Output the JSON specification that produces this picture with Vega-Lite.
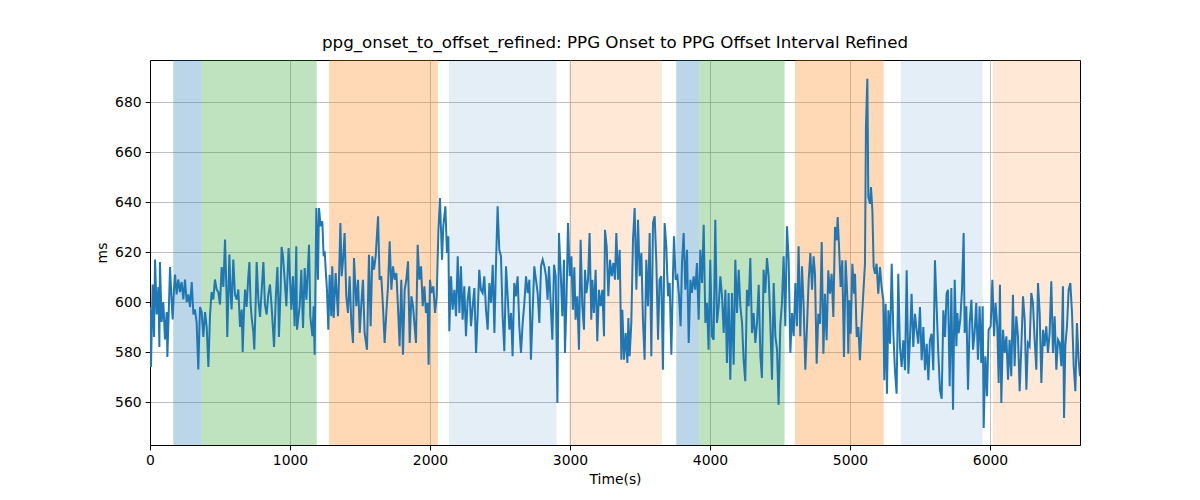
{
"$schema": "https://vega.github.io/schema/vega-lite/v6.json",
"width": 930, "height": 385,
"autosize": {"type": "none"},
"padding": {"left": 150, "top": 60, "right": 120, "bottom": 55},
"background": "white",
"config": {"font": "DejaVu Sans", "view": {"stroke": "black", "strokeWidth": 1},
 "axis": {"labelFont": "DejaVu Sans", "titleFont": "DejaVu Sans", "labelFontSize": 13.9, "titleFontSize": 13.9, "titleFontWeight": "normal", "labelColor": "black", "titleColor": "black", "domainColor": "black", "tickColor": "black", "tickSize": 4.9, "labelPadding": 4, "titlePadding": 5, "labelFlush": false, "grid": true, "gridColor": "#b0b0b0", "gridWidth": 0.8}},
"title": {"text": "ppg_onset_to_offset_refined: PPG Onset to PPG Offset Interval Refined", "font": "DejaVu Sans", "fontSize": 16.7, "fontWeight": "normal", "color": "black", "offset": 8},
"datasets": {
"spans": [{"s":166,"e":369,"p":"A"},{"s":369,"e":1191,"p":"B"},{"s":1279,"e":2057,"p":"C"},{"s":2136,"e":2905,"p":"D"},{"s":2995,"e":3657,"p":"E"},{"s":3759,"e":3924,"p":"A"},{"s":3924,"e":4533,"p":"B"},{"s":4607,"e":5241,"p":"C"},{"s":5364,"e":5948,"p":"D"},{"s":6021,"e":6660,"p":"E"}],
"series": [
{"t":0,"v":598},{"t":7,"v":574},{"t":19,"v":607},{"t":29,"v":586},{"t":36,"v":617},{"t":48,"v":595},{"t":60,"v":606},{"t":67,"v":582},{"t":71,"v":616},{"t":83,"v":592},{"t":95,"v":600},{"t":107,"v":585},{"t":119,"v":596},{"t":124,"v":578},{"t":136,"v":600},{"t":143,"v":614},{"t":155,"v":600},{"t":162,"v":593},{"t":171,"v":605},{"t":179,"v":611},{"t":190,"v":603},{"t":202,"v":609},{"t":214,"v":604},{"t":226,"v":608},{"t":238,"v":601},{"t":250,"v":609},{"t":262,"v":600},{"t":274,"v":603},{"t":286,"v":598},{"t":298,"v":608},{"t":310,"v":595},{"t":321,"v":597},{"t":333,"v":592},{"t":345,"v":573},{"t":357,"v":598},{"t":369,"v":596},{"t":381,"v":586},{"t":393,"v":596},{"t":405,"v":590},{"t":417,"v":574},{"t":429,"v":595},{"t":440,"v":604},{"t":452,"v":601},{"t":464,"v":609},{"t":476,"v":605},{"t":488,"v":604},{"t":500,"v":599},{"t":512,"v":614},{"t":524,"v":606},{"t":536,"v":625},{"t":548,"v":600},{"t":552,"v":586},{"t":567,"v":619},{"t":576,"v":603},{"t":583,"v":597},{"t":595,"v":617},{"t":607,"v":603},{"t":619,"v":601},{"t":631,"v":605},{"t":643,"v":590},{"t":655,"v":597},{"t":662,"v":580},{"t":671,"v":596},{"t":679,"v":605},{"t":690,"v":598},{"t":702,"v":610},{"t":710,"v":616},{"t":719,"v":599},{"t":726,"v":594},{"t":738,"v":588},{"t":745,"v":581},{"t":755,"v":600},{"t":762,"v":616},{"t":774,"v":601},{"t":786,"v":594},{"t":798,"v":605},{"t":810,"v":616},{"t":821,"v":599},{"t":833,"v":595},{"t":845,"v":603},{"t":857,"v":607},{"t":869,"v":598},{"t":886,"v":582},{"t":898,"v":601},{"t":910,"v":614},{"t":917,"v":600},{"t":921,"v":586},{"t":933,"v":605},{"t":940,"v":622},
{"t":950,"v":618.3},{"t":962,"v":608.9},{"t":974,"v":598.3},{"t":990,"v":621.6},{"t":1010,"v":596.9},{"t":1021,"v":610.3},{"t":1033,"v":590.3},{"t":1045,"v":622.3},{"t":1050,"v":588.9},{"t":1069,"v":598.3},{"t":1081,"v":612.9},{"t":1093,"v":589.6},{"t":1105,"v":613.6},{"t":1117,"v":600.9},{"t":1136,"v":622.9},{"t":1145,"v":594.3},{"t":1160,"v":586.3},{"t":1169,"v":598.3},{"t":1176,"v":578.9},{"t":1188,"v":637.6},{"t":1200,"v":608.9},{"t":1207,"v":637.6},{"t":1219,"v":630.3},{"t":1231,"v":632.3},{"t":1240,"v":618.3},{"t":1248,"v":620.3},{"t":1255,"v":612.9},{"t":1264,"v":604.9},{"t":1274,"v":588.9},{"t":1283,"v":610.9},{"t":1295,"v":594.3},{"t":1302,"v":614.3},{"t":1312,"v":593.6},{"t":1326,"v":611.6},{"t":1343,"v":594.3},{"t":1360,"v":631.6},{"t":1369,"v":610.3},{"t":1379,"v":616.9},{"t":1390,"v":627.6},{"t":1402,"v":602.3},{"t":1414,"v":595.6},{"t":1426,"v":610.3},{"t":1438,"v":591.6},{"t":1450,"v":583.6},{"t":1457,"v":617.6},{"t":1474,"v":598.3},{"t":1486,"v":608.9},{"t":1498,"v":587.6},{"t":1510,"v":599.6},{"t":1521,"v":608.9},{"t":1533,"v":587.6},{"t":1550,"v":580.9},{"t":1564,"v":618.9},{"t":1576,"v":590.3},{"t":1588,"v":618.3},{"t":1600,"v":612.9},{"t":1612,"v":618.3},{"t":1629,"v":634.3},{"t":1640,"v":608.9},{"t":1652,"v":610.3},{"t":1664,"v":598.3},{"t":1676,"v":583.6},{"t":1688,"v":595.6},{"t":1700,"v":606.3},{"t":1712,"v":624.3},{"t":1724,"v":604.9},{"t":1736,"v":614.3},{"t":1748,"v":608.9},{"t":1760,"v":611.6},{"t":1771,"v":598.3},{"t":1783,"v":582.3},{"t":1795,"v":608.9},{"t":1807,"v":578.9},{"t":1819,"v":604.9},{"t":1831,"v":608.9},{"t":1843,"v":616.3},{"t":1855,"v":583.6},{"t":1867,"v":602.3},{"t":1879,"v":598.3},{"t":1890,"v":590.3},
{"t":1900,"v":583.6},{"t":1912,"v":622.9},{"t":1924,"v":608.9},{"t":1936,"v":614.3},{"t":1948,"v":598.3},{"t":1960,"v":606.3},{"t":1971,"v":595.6},{"t":1983,"v":599.6},{"t":1990,"v":574.9},{"t":2000,"v":608.9},{"t":2010,"v":603.6},{"t":2024,"v":606.3},{"t":2036,"v":595.6},{"t":2048,"v":602.3},{"t":2060,"v":628.3},{"t":2071,"v":641.6},{"t":2086,"v":616.9},{"t":2095,"v":630.3},{"t":2110,"v":638.3},{"t":2121,"v":619.6},{"t":2131,"v":626.3},{"t":2138,"v":588.3},{"t":2150,"v":610.3},{"t":2162,"v":596.9},{"t":2174,"v":604.9},{"t":2186,"v":594.3},{"t":2198,"v":618.3},{"t":2210,"v":595.6},{"t":2221,"v":614.3},{"t":2233,"v":592.9},{"t":2245,"v":606.3},{"t":2257,"v":586.3},{"t":2269,"v":600.9},{"t":2281,"v":606.3},{"t":2293,"v":590.3},{"t":2305,"v":598.3},{"t":2317,"v":605.6},{"t":2329,"v":579.6},{"t":2340,"v":594.3},{"t":2352,"v":612.9},{"t":2364,"v":604.9},{"t":2376,"v":603.6},{"t":2388,"v":610.3},{"t":2400,"v":596.9},{"t":2412,"v":588.9},{"t":2424,"v":607.6},{"t":2436,"v":599.6},{"t":2448,"v":614.9},{"t":2460,"v":587.6},{"t":2471,"v":614.3},{"t":2483,"v":638.3},{"t":2495,"v":620.9},{"t":2507,"v":618.3},{"t":2519,"v":594.3},{"t":2531,"v":580.3},{"t":2543,"v":614.3},{"t":2555,"v":602.3},{"t":2567,"v":588.9},{"t":2579,"v":595.6},{"t":2590,"v":578.3},{"t":2602,"v":607.6},{"t":2614,"v":602.3},{"t":2626,"v":610.3},{"t":2638,"v":590.3},{"t":2650,"v":579.6},{"t":2662,"v":591.6},{"t":2674,"v":599.6},{"t":2686,"v":610.3},{"t":2698,"v":603.6},{"t":2710,"v":608.9},{"t":2721,"v":576.9},{"t":2733,"v":595.6},{"t":2745,"v":614.3},{"t":2757,"v":608.9},{"t":2769,"v":603.6},{"t":2781,"v":591.6},{"t":2793,"v":614.3},{"t":2805,"v":616.9},{"t":2817,"v":614.3},{"t":2829,"v":610.3},{"t":2840,"v":600.9},
{"t":2850,"v":614.3},{"t":2862,"v":599.6},{"t":2874,"v":584.9},{"t":2886,"v":614.9},{"t":2898,"v":610.3},{"t":2910,"v":559.6},{"t":2921,"v":627.6},{"t":2933,"v":612.9},{"t":2945,"v":594.3},{"t":2957,"v":616.9},{"t":2964,"v":579.6},{"t":2974,"v":598.3},{"t":2986,"v":631.6},{"t":2998,"v":610.3},{"t":3010,"v":618.3},{"t":3021,"v":596.9},{"t":3031,"v":613.9},{"t":3040,"v":592.9},{"t":3052,"v":602.3},{"t":3064,"v":580.9},{"t":3076,"v":624.9},{"t":3088,"v":598.3},{"t":3100,"v":588.9},{"t":3107,"v":612.9},{"t":3117,"v":603.6},{"t":3129,"v":608.9},{"t":3140,"v":627.6},{"t":3152,"v":592.9},{"t":3160,"v":608.9},{"t":3171,"v":595.6},{"t":3183,"v":612.9},{"t":3195,"v":584.3},{"t":3207,"v":604.9},{"t":3219,"v":598.3},{"t":3231,"v":604.9},{"t":3243,"v":586.3},{"t":3250,"v":628.9},{"t":3262,"v":622.3},{"t":3274,"v":602.3},{"t":3286,"v":616.9},{"t":3298,"v":610.3},{"t":3310,"v":615.6},{"t":3321,"v":608.9},{"t":3331,"v":627.6},{"t":3343,"v":608.9},{"t":3355,"v":620.9},{"t":3367,"v":576.9},{"t":3374,"v":596.9},{"t":3386,"v":576.9},{"t":3398,"v":587.6},{"t":3410,"v":575.6},{"t":3417,"v":593.6},{"t":3426,"v":578.3},{"t":3438,"v":591.6},{"t":3450,"v":624.9},{"t":3462,"v":637.6},{"t":3474,"v":604.9},{"t":3486,"v":632.9},{"t":3498,"v":610.3},{"t":3510,"v":619.6},{"t":3521,"v":592.9},{"t":3533,"v":576.9},{"t":3545,"v":616.9},{"t":3557,"v":598.3},{"t":3569,"v":627.6},{"t":3581,"v":578.3},{"t":3593,"v":631.6},{"t":3605,"v":634.3},{"t":3617,"v":615.6},{"t":3629,"v":584.9},{"t":3640,"v":608.9},{"t":3652,"v":610.3},{"t":3664,"v":572.9},{"t":3676,"v":631.6},{"t":3688,"v":622.3},{"t":3700,"v":602.3},{"t":3712,"v":607.6},{"t":3724,"v":578.9},{"t":3736,"v":611.6},{"t":3743,"v":626.3},{"t":3755,"v":608.9},{"t":3767,"v":610.3},{"t":3779,"v":602.3},{"t":3790,"v":590.3},
{"t":3800,"v":615.6},{"t":3812,"v":627.6},{"t":3824,"v":604.9},{"t":3836,"v":620.9},{"t":3848,"v":583.6},{"t":3860,"v":608.9},{"t":3871,"v":603.6},{"t":3883,"v":610.3},{"t":3895,"v":604.9},{"t":3907,"v":615.6},{"t":3919,"v":592.9},{"t":3931,"v":620.9},{"t":3943,"v":607.6},{"t":3955,"v":630.9},{"t":3967,"v":591.6},{"t":3979,"v":599.6},{"t":3990,"v":580.9},{"t":4002,"v":616.9},{"t":4014,"v":586.3},{"t":4026,"v":584.9},{"t":4038,"v":632.9},{"t":4050,"v":591.6},{"t":4062,"v":598.3},{"t":4074,"v":610.3},{"t":4086,"v":602.3},{"t":4098,"v":587.6},{"t":4110,"v":604.9},{"t":4121,"v":575.6},{"t":4133,"v":603.6},{"t":4145,"v":568.9},{"t":4157,"v":603.6},{"t":4169,"v":574.9},{"t":4181,"v":616.9},{"t":4193,"v":595.6},{"t":4205,"v":612.9},{"t":4217,"v":598.3},{"t":4229,"v":591.6},{"t":4240,"v":576.9},{"t":4252,"v":568.3},{"t":4264,"v":604.9},{"t":4276,"v":598.3},{"t":4288,"v":617.6},{"t":4300,"v":587.6},{"t":4312,"v":595.6},{"t":4324,"v":583.6},{"t":4336,"v":591.6},{"t":4348,"v":606.9},{"t":4360,"v":578.3},{"t":4371,"v":569.6},{"t":4383,"v":612.9},{"t":4395,"v":603.6},{"t":4407,"v":617.6},{"t":4419,"v":610.3},{"t":4431,"v":591.6},{"t":4443,"v":568.9},{"t":4455,"v":607.6},{"t":4467,"v":586.3},{"t":4479,"v":580.9},{"t":4490,"v":558.9},{"t":4502,"v":590.3},{"t":4514,"v":599.6},{"t":4526,"v":618.3},{"t":4538,"v":590.3},{"t":4550,"v":630.3},{"t":4562,"v":616.9},{"t":4574,"v":579.6},{"t":4586,"v":595.6},{"t":4598,"v":586.3},{"t":4610,"v":607.6},{"t":4621,"v":590.3},{"t":4633,"v":622.3},{"t":4645,"v":586.3},{"t":4657,"v":614.3},{"t":4669,"v":598.3},{"t":4681,"v":572.9},{"t":4693,"v":590.3},{"t":4705,"v":608.9},{"t":4717,"v":619.6},{"t":4729,"v":604.9},{"t":4740,"v":618.3},
{"t":4750,"v":611.3},{"t":4762,"v":575.3},{"t":4774,"v":595.3},{"t":4786,"v":591.3},{"t":4798,"v":624},{"t":4810,"v":579.3},{"t":4821,"v":603.3},{"t":4833,"v":584.7},{"t":4845,"v":612.7},{"t":4857,"v":603.3},{"t":4869,"v":611.3},{"t":4881,"v":594},{"t":4893,"v":630},{"t":4905,"v":624.7},{"t":4912,"v":634},{"t":4921,"v":623.3},{"t":4933,"v":606},{"t":4945,"v":616.7},{"t":4957,"v":578},{"t":4969,"v":616.7},{"t":4981,"v":602},{"t":4988,"v":579.3},{"t":4995,"v":600.7},{"t":5005,"v":587.3},{"t":5017,"v":615.3},{"t":5029,"v":603.3},{"t":5036,"v":611.3},{"t":5048,"v":586},{"t":5060,"v":590},{"t":5071,"v":576.7},{"t":5083,"v":591.3},{"t":5095,"v":603.3},{"t":5107,"v":615.3},{"t":5114,"v":670},{"t":5124,"v":689.3},{"t":5131,"v":642},{"t":5143,"v":639.3},{"t":5150,"v":646},{"t":5160,"v":636.7},{"t":5169,"v":614},{"t":5179,"v":611.3},{"t":5190,"v":615.3},{"t":5202,"v":603.3},{"t":5214,"v":614},{"t":5226,"v":606},{"t":5238,"v":600.7},{"t":5245,"v":568.7},{"t":5255,"v":599.3},{"t":5264,"v":563.3},{"t":5274,"v":596.7},{"t":5286,"v":583.3},{"t":5298,"v":615.3},{"t":5310,"v":587.3},{"t":5321,"v":572.7},{"t":5333,"v":563.3},{"t":5345,"v":611.3},{"t":5357,"v":582},{"t":5369,"v":574},{"t":5381,"v":584.7},{"t":5393,"v":572.7},{"t":5405,"v":612.7},{"t":5417,"v":571.3},{"t":5429,"v":586},{"t":5440,"v":603.3},{"t":5452,"v":582},{"t":5464,"v":595.3},{"t":5476,"v":588.7},{"t":5488,"v":583.3},{"t":5500,"v":598},{"t":5512,"v":576.7},{"t":5524,"v":590},{"t":5536,"v":572.7},{"t":5548,"v":583.3},{"t":5560,"v":568.7},{"t":5571,"v":584.7},{"t":5583,"v":587.3},{"t":5595,"v":572.7},{"t":5607,"v":616.7},{"t":5619,"v":598},{"t":5631,"v":579.3},{"t":5643,"v":564.7},{"t":5655,"v":561.3},{"t":5667,"v":596.7},{"t":5679,"v":586},{"t":5690,"v":603.3},
{"t":5700,"v":604.9},{"t":5712,"v":566.3},{"t":5724,"v":605.6},{"t":5736,"v":556.9},{"t":5748,"v":608.9},{"t":5760,"v":582.3},{"t":5767,"v":595.6},{"t":5776,"v":587.6},{"t":5788,"v":592.9},{"t":5800,"v":604.9},{"t":5812,"v":627.6},{"t":5819,"v":587.6},{"t":5831,"v":598.3},{"t":5843,"v":564.9},{"t":5855,"v":591.6},{"t":5867,"v":600.9},{"t":5879,"v":580.9},{"t":5890,"v":587.6},{"t":5902,"v":599.6},{"t":5914,"v":576.9},{"t":5926,"v":598.3},{"t":5938,"v":575.6},{"t":5948,"v":598.3},{"t":5955,"v":549.6},{"t":5967,"v":578.3},{"t":5979,"v":562.3},{"t":5990,"v":588.9},{"t":6005,"v":590.3},{"t":6017,"v":608.9},{"t":6029,"v":586.3},{"t":6040,"v":599.6},{"t":6052,"v":590.3},{"t":6062,"v":567.6},{"t":6071,"v":606.9},{"t":6081,"v":559.6},{"t":6093,"v":588.9},{"t":6105,"v":579.6},{"t":6117,"v":586.3},{"t":6129,"v":568.9},{"t":6140,"v":584.9},{"t":6152,"v":570.3},{"t":6164,"v":602.9},{"t":6176,"v":574.3},{"t":6188,"v":594.3},{"t":6200,"v":586.3},{"t":6212,"v":564.3},{"t":6224,"v":582.3},{"t":6236,"v":602.3},{"t":6248,"v":592.9},{"t":6260,"v":564.9},{"t":6271,"v":583.6},{"t":6283,"v":582.3},{"t":6295,"v":603.6},{"t":6307,"v":599.6},{"t":6319,"v":584.9},{"t":6331,"v":572.9},{"t":6343,"v":607.6},{"t":6355,"v":595.6},{"t":6367,"v":567.6},{"t":6379,"v":588.9},{"t":6390,"v":582.3},{"t":6402,"v":590.3},{"t":6414,"v":579.6},{"t":6426,"v":587.6},{"t":6438,"v":608.3},{"t":6450,"v":579.6},{"t":6462,"v":594.3},{"t":6474,"v":572.9},{"t":6486,"v":584.9},{"t":6498,"v":583.6},{"t":6510,"v":574.3},{"t":6521,"v":606.3},{"t":6529,"v":553.6},{"t":6538,"v":582.3},{"t":6550,"v":590.3},{"t":6562,"v":604.9},{"t":6574,"v":607.6},{"t":6586,"v":595.6},{"t":6598,"v":574.3},{"t":6610,"v":564.3},{"t":6621,"v":591.6},{"t":6633,"v":576.9},{"t":6643,"v":570.3}
]},
"layer": [
 {"data": {"name": "spans"}, "mark": {"type": "rect", "clip": true},
  "encoding": {
   "x": {"field": "s", "type": "quantitative", "scale": {"domain": [0, 6643], "nice": false, "zero": false}, "axis": {"title": "Time(s)", "values": [0,1000,2000,3000,4000,5000,6000], "format": "d"}},
   "x2": {"field": "e"},
   "fill": {"field": "p", "type": "nominal", "scale": {"domain": ["A","B","C","D","E"], "range": ["rgba(31,119,180,0.3)","rgba(44,160,44,0.3)","rgba(255,127,14,0.3)","rgba(31,119,180,0.12)","rgba(255,127,14,0.17)"]}, "legend": null}
  }},
 {"data": {"name": "series"}, "mark": {"type": "line", "color": "#1f77b4", "strokeWidth": 2, "clip": true},
  "encoding": {
   "x": {"field": "t", "type": "quantitative"},
   "y": {"field": "v", "type": "quantitative", "scale": {"domain": [542.8, 696.8], "nice": false, "zero": false}, "axis": {"title": "ms", "values": [560,580,600,620,640,660,680]}}
  }}
]
}
